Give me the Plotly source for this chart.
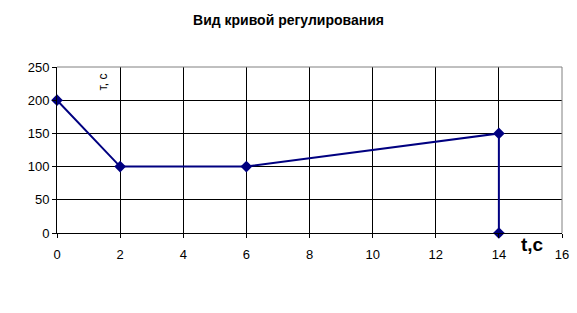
import plotly.graph_objects as go

x_vals = [0, 2, 6, 14, 14]
y_vals = [200, 100, 100, 150, 0]
x_ticks = [0, 2, 4, 6, 8, 10, 12, 14, 16]
y_ticks = [0, 50, 100, 150, 200, 250]
title_text = "Вид кривой регулирования"

fig = go.Figure()
fig.add_trace(go.Scatter(
    x=x_vals, y=y_vals, mode="lines+markers",
    line=dict(color="#000080", width=2),
    marker=dict(symbol="diamond", size=9, color="#000080"),
    cliponaxis=False, showlegend=False,
))

fig.update_layout(
    width=577, height=313,
    margin=dict(l=57, r=15, t=67, b=80, autoexpand=False),
    paper_bgcolor="white", plot_bgcolor="white",
    font=dict(family="Liberation Sans, Arial", size=13, color="black"),
    title=dict(text="<b>" + title_text + "</b>", x=0.5, xanchor="center",
               y=1 - 20 / 313, yanchor="middle", font=dict(size=14)),
    xaxis=dict(range=[0, 16], tickvals=x_ticks, showgrid=True, gridcolor="black",
               gridwidth=1, zeroline=False, showline=True, linecolor="black",
               ticks="outside", ticklen=4, tickcolor="black", automargin=False,
               ticklabelstandoff=5),
    yaxis=dict(range=[0, 250], tickvals=y_ticks, showgrid=True, gridcolor="black",
               gridwidth=1, zeroline=False, showline=True, linecolor="black",
               ticks="outside", ticklen=4, tickcolor="black", automargin=False),
    shapes=[
        dict(type="line", xref="paper", yref="paper", x0=0, x1=1, y0=1, y1=1,
             line=dict(color="#808080", width=1)),
        dict(type="line", xref="paper", yref="paper", x0=1, x1=1, y0=0, y1=1,
             line=dict(color="#808080", width=1)),
    ],
    annotations=[
        dict(text="т, с", x=1.45, y=228, xref="x", yref="y", showarrow=False,
             textangle=-90, font=dict(size=12)),
        dict(text="<b>t,c</b>", x=15.05, y=-0.07, xref="x", yref="paper",
             showarrow=False, yanchor="middle", font=dict(size=19)),
    ],
)

fig.write_html("out.html")
